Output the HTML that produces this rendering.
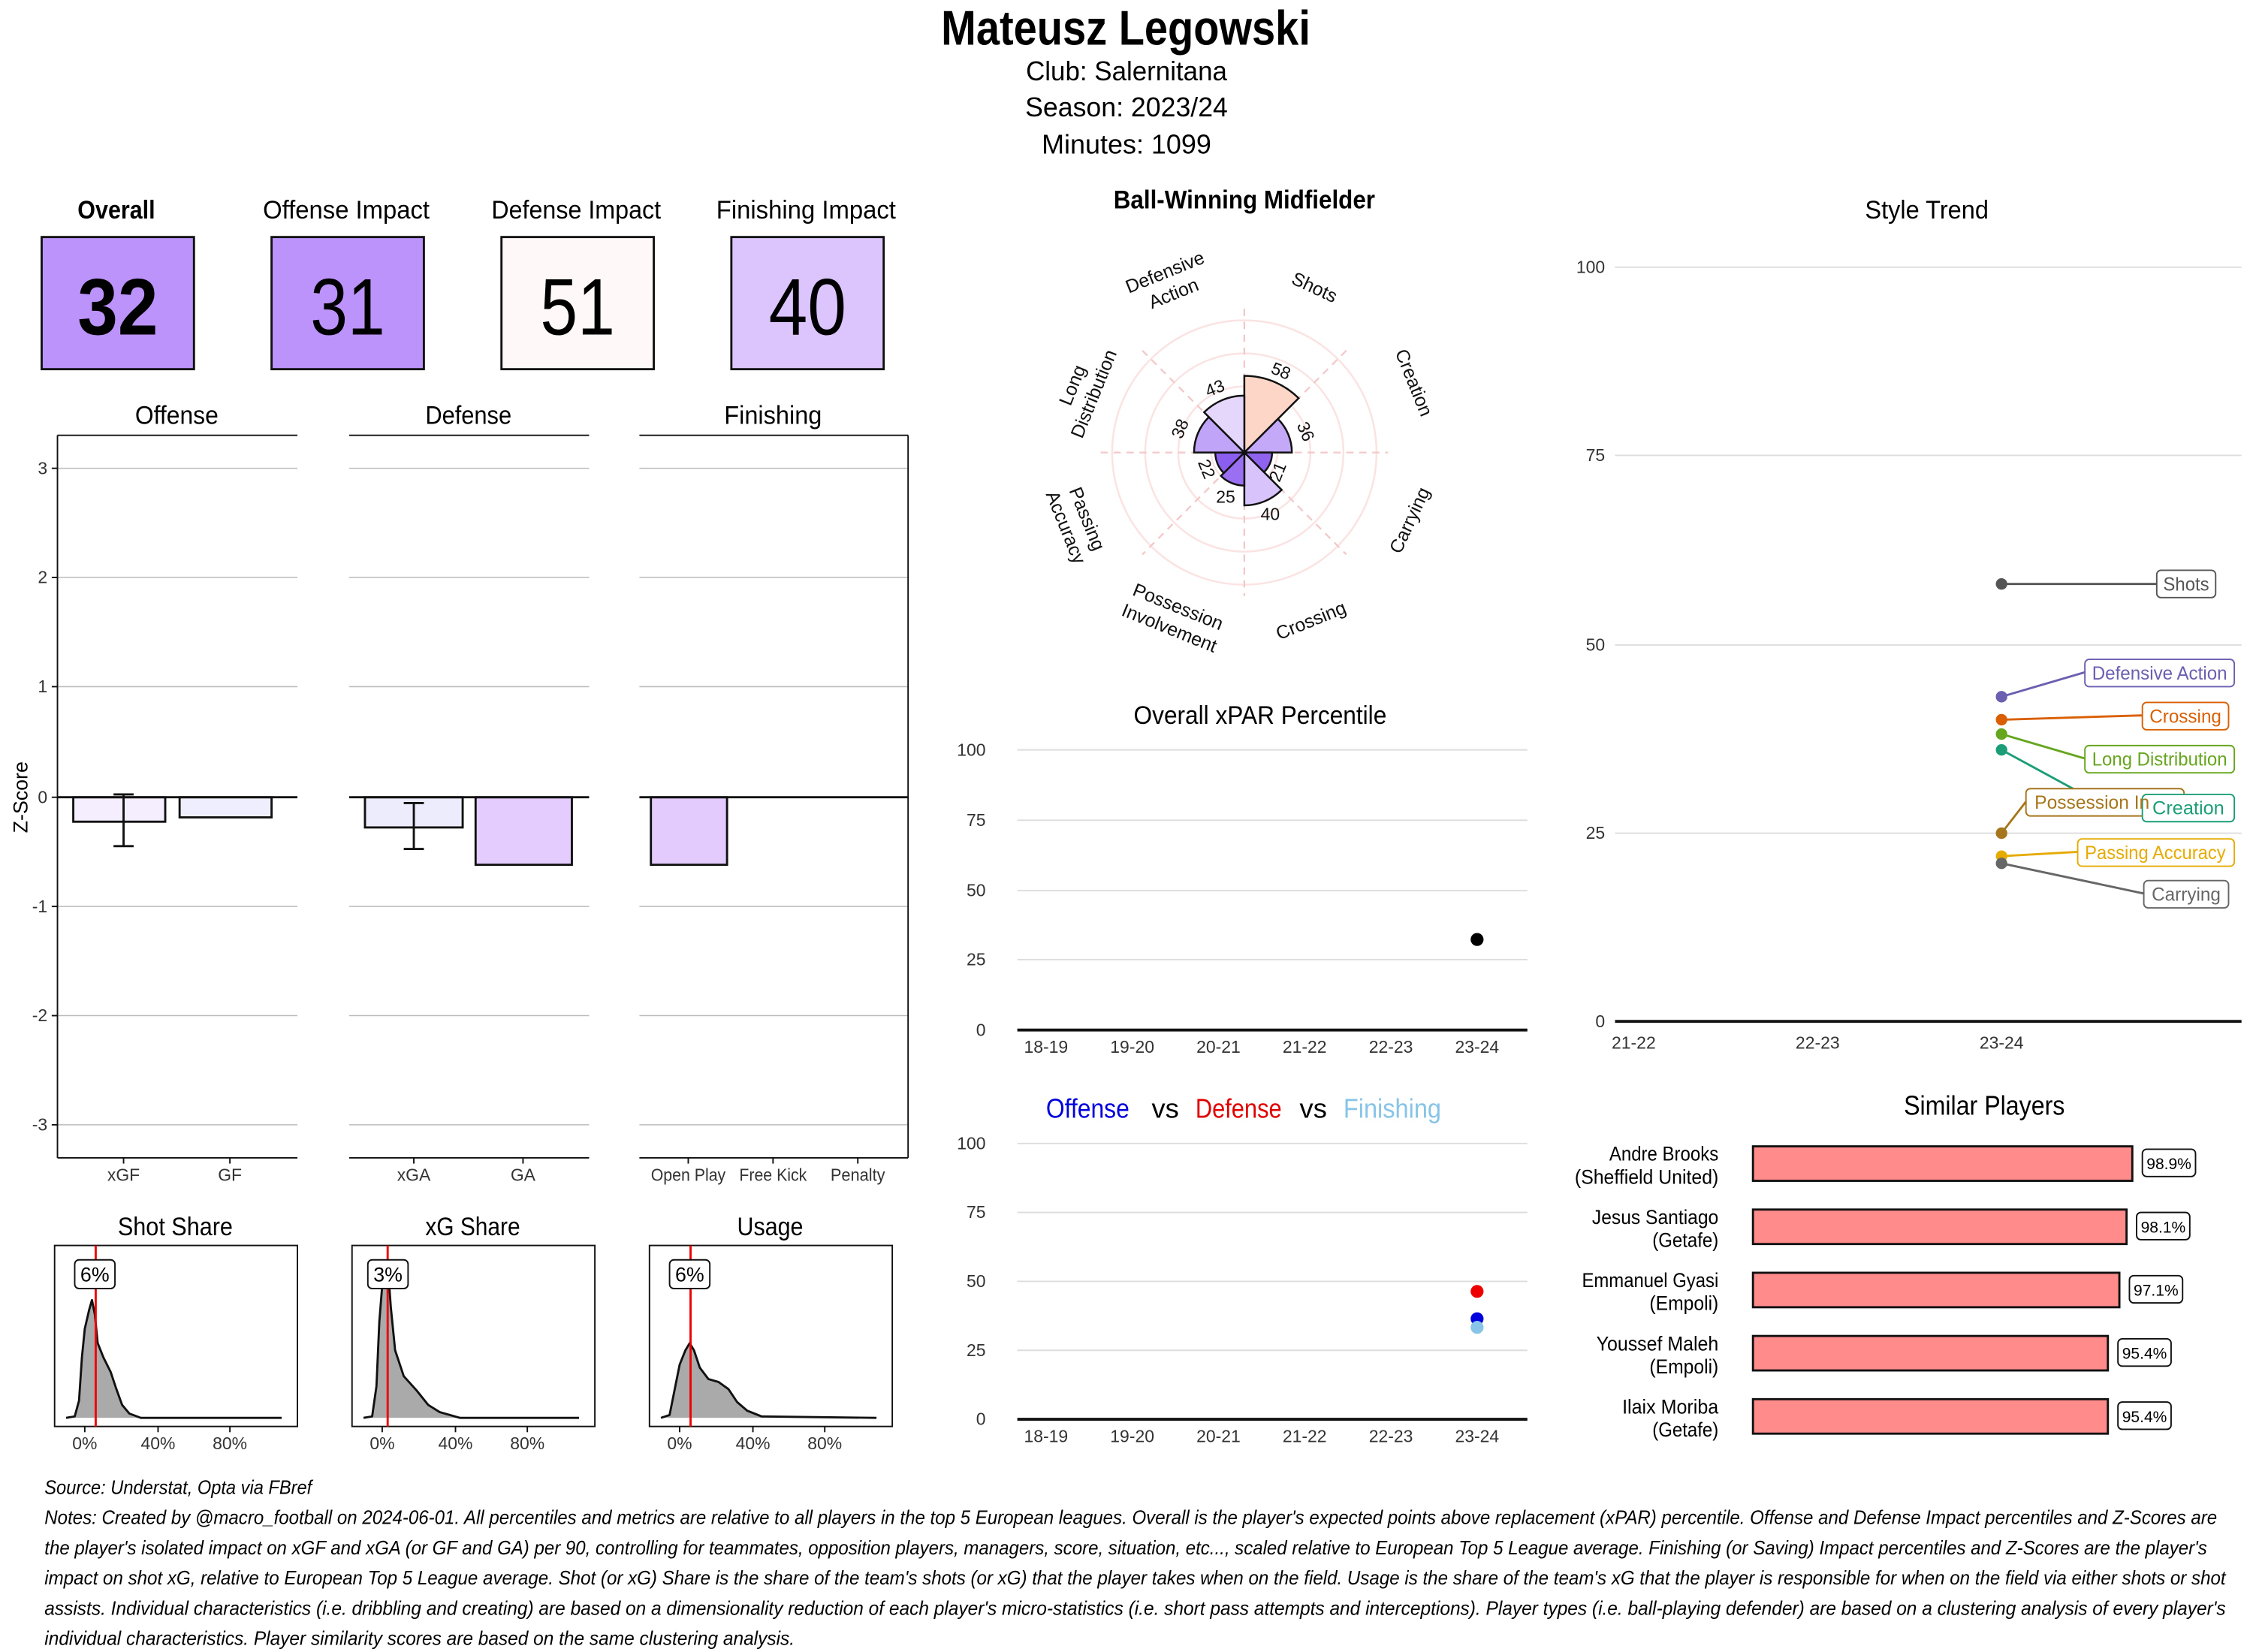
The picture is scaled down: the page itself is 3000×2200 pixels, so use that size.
<!DOCTYPE html>
<html><head><meta charset="utf-8"><style>
html,body{margin:0;padding:0;background:#fff;}
svg{display:block;}
text{font-family:"Liberation Sans Narrow","Liberation Sans",sans-serif;}
.n{font-family:"Liberation Sans",sans-serif;}
</style></head><body>
<svg width="3000" height="2200" viewBox="0 0 1568 1150" preserveAspectRatio="none" xmlns="http://www.w3.org/2000/svg">
<rect width="1568" height="1150" fill="#fff"/>
<!-- Title -->
<text x="655" y="31" font-size="34" font-weight="bold" textLength="257" lengthAdjust="spacingAndGlyphs">Mateusz Legowski</text>
<text x="784" y="56" text-anchor="middle" font-size="19" textLength="140" lengthAdjust="spacingAndGlyphs">Club:  Salernitana</text>
<text x="784" y="81" text-anchor="middle" font-size="19" textLength="141" lengthAdjust="spacingAndGlyphs">Season:  2023/24</text>
<text x="784" y="107" text-anchor="middle" font-size="19" textLength="118" lengthAdjust="spacingAndGlyphs">Minutes:  1099</text>

<!-- Impact boxes -->
<g font-size="18" text-anchor="middle">
<text x="81" y="152" font-weight="bold" textLength="54" lengthAdjust="spacingAndGlyphs">Overall</text>
<text x="241" y="152" textLength="116" lengthAdjust="spacingAndGlyphs">Offense Impact</text>
<text x="401" y="152" textLength="118" lengthAdjust="spacingAndGlyphs">Defense Impact</text>
<text x="561" y="152" textLength="125" lengthAdjust="spacingAndGlyphs">Finishing Impact</text>
</g>
<g stroke="#111" stroke-width="1.5">
<rect x="29" y="165" width="106" height="92" fill="#bb93fb"/>
<rect x="189" y="165" width="106" height="92" fill="#bb93fb"/>
<rect x="349" y="165" width="106" height="92" fill="#fff8f8"/>
<rect x="509" y="165" width="106" height="92" fill="#dcc5fc"/>
</g>
<g font-size="56" text-anchor="middle">
<text x="82" y="233" font-weight="bold" textLength="56" lengthAdjust="spacingAndGlyphs">32</text>
<text x="242" y="233" textLength="52" lengthAdjust="spacingAndGlyphs">31</text>
<text x="402" y="233" textLength="52" lengthAdjust="spacingAndGlyphs">51</text>
<text x="562" y="233" textLength="54" lengthAdjust="spacingAndGlyphs">40</text>
</g>

<!-- Z score panels -->
<g font-size="18" text-anchor="middle">
<text x="123" y="295" textLength="58" lengthAdjust="spacingAndGlyphs">Offense</text>
<text x="326" y="295" textLength="60" lengthAdjust="spacingAndGlyphs">Defense</text>
<text x="538" y="295" textLength="68" lengthAdjust="spacingAndGlyphs">Finishing</text>
</g>
<g stroke="#bbb" stroke-width="0.8">
<line x1="40" x2="207" y1="326" y2="326"/><line x1="40" x2="207" y1="402" y2="402"/><line x1="40" x2="207" y1="478" y2="478"/><line x1="40" x2="207" y1="631" y2="631"/><line x1="40" x2="207" y1="707" y2="707"/><line x1="40" x2="207" y1="783" y2="783"/>
<line x1="243" x2="410" y1="326" y2="326"/><line x1="243" x2="410" y1="402" y2="402"/><line x1="243" x2="410" y1="478" y2="478"/><line x1="243" x2="410" y1="631" y2="631"/><line x1="243" x2="410" y1="707" y2="707"/><line x1="243" x2="410" y1="783" y2="783"/>
<line x1="445" x2="632" y1="326" y2="326"/><line x1="445" x2="632" y1="402" y2="402"/><line x1="445" x2="632" y1="478" y2="478"/><line x1="445" x2="632" y1="631" y2="631"/><line x1="445" x2="632" y1="707" y2="707"/><line x1="445" x2="632" y1="783" y2="783"/>
</g>
<g stroke="#111" stroke-width="1" fill="none">
<line x1="40" y1="303" x2="207" y2="303"/><line x1="40" y1="303" x2="40" y2="806"/><line x1="40" y1="806" x2="207" y2="806"/>
<line x1="243" y1="303" x2="410" y2="303"/><line x1="243" y1="806" x2="410" y2="806"/>
<line x1="445" y1="303" x2="632" y2="303"/><line x1="632" y1="303" x2="632" y2="806"/><line x1="445" y1="806" x2="632" y2="806"/>
<line x1="36" y1="326" x2="40" y2="326"/><line x1="36" y1="402" x2="40" y2="402"/><line x1="36" y1="478" x2="40" y2="478"/><line x1="36" y1="555" x2="40" y2="555"/><line x1="36" y1="631" x2="40" y2="631"/><line x1="36" y1="707" x2="40" y2="707"/><line x1="36" y1="783" x2="40" y2="783"/>
<line x1="86" y1="806" x2="86" y2="810"/><line x1="160" y1="806" x2="160" y2="810"/>
<line x1="288" y1="806" x2="288" y2="810"/><line x1="364" y1="806" x2="364" y2="810"/>
<line x1="479" y1="806" x2="479" y2="810"/><line x1="538" y1="806" x2="538" y2="810"/><line x1="597" y1="806" x2="597" y2="810"/>
</g>
<g font-size="12" text-anchor="end" fill="#333">
<text x="33" y="330">3</text><text x="33" y="406">2</text><text x="33" y="482">1</text><text x="33" y="559">0</text><text x="33" y="635">-1</text><text x="33" y="711">-2</text><text x="33" y="787">-3</text>
</g>
<g font-size="12" text-anchor="middle" fill="#333">
<text x="86" y="822">xGF</text><text x="160" y="822">GF</text>
<text x="288" y="822">xGA</text><text x="364" y="822">GA</text>
<text x="479" y="822" textLength="52" lengthAdjust="spacingAndGlyphs">Open Play</text><text x="538" y="822" textLength="47" lengthAdjust="spacingAndGlyphs">Free Kick</text><text x="597" y="822" textLength="38" lengthAdjust="spacingAndGlyphs">Penalty</text>
</g>
<text class="n" x="19" y="555" font-size="14" text-anchor="middle" transform="rotate(-90 19 555)">Z-Score</text>
<g stroke="#111" stroke-width="1.5">
<rect x="51" y="555" width="64" height="17" fill="#f5eefe"/>
<rect x="125" y="555" width="64" height="14" fill="#eeeefe"/>
<rect x="254" y="555" width="68" height="21" fill="#ececfd"/>
<rect x="331" y="555" width="67" height="47" fill="#e4cdfe"/>
<rect x="453" y="555" width="53" height="47" fill="#e3cbfd"/>
<line x1="40" x2="207" y1="555" y2="555"/><line x1="243" x2="410" y1="555" y2="555"/><line x1="445" x2="632" y1="555" y2="555"/>
<line x1="86" y1="553" x2="86" y2="589"/><line x1="79" y1="553" x2="93" y2="553"/><line x1="79" y1="589" x2="93" y2="589"/>
<line x1="288" y1="559" x2="288" y2="591"/><line x1="281" y1="559" x2="295" y2="559"/><line x1="281" y1="591" x2="295" y2="591"/>
</g>

<!-- Density panels -->
<g font-size="18" text-anchor="middle">
<text x="122" y="860" textLength="80" lengthAdjust="spacingAndGlyphs">Shot Share</text><text x="329" y="860" textLength="66" lengthAdjust="spacingAndGlyphs">xG Share</text><text x="536" y="860" textLength="46" lengthAdjust="spacingAndGlyphs">Usage</text>
</g>
<g fill="none" stroke="#111" stroke-width="1">
<rect x="38" y="867" width="169" height="126"/><rect x="245" y="867" width="169" height="126"/><rect x="452" y="867" width="169" height="126"/>
<line x1="59" y1="993" x2="59" y2="997"/><line x1="110" y1="993" x2="110" y2="997"/><line x1="160" y1="993" x2="160" y2="997"/>
<line x1="266" y1="993" x2="266" y2="997"/><line x1="317" y1="993" x2="317" y2="997"/><line x1="367" y1="993" x2="367" y2="997"/>
<line x1="473" y1="993" x2="473" y2="997"/><line x1="524" y1="993" x2="524" y2="997"/><line x1="574" y1="993" x2="574" y2="997"/>
</g>
<g font-size="12" text-anchor="middle" fill="#333">
<text x="59" y="1009">0%</text><text x="110" y="1009">40%</text><text x="160" y="1009">80%</text>
<text x="266" y="1009">0%</text><text x="317" y="1009">40%</text><text x="367" y="1009">80%</text>
<text x="473" y="1009">0%</text><text x="524" y="1009">40%</text><text x="574" y="1009">80%</text>
</g>
<g fill="#aaa" stroke="#111" stroke-width="1.5" stroke-linejoin="round">
<path d="M46,987 L52,986 L55,975 L57,945 L59,925 L62,912 L64,905 L66,915 L68,935 L72,945 L77,955 L81,967 L85,978 L90,984 L98,987 L196,987"/>
<path d="M253,987 L259,986 L262,965 L264,920 L266,895 L268,880 L270,882 L272,910 L275,940 L281,958 L290,968 L298,978 L306,983 L320,987 L403,987"/>
<path d="M460,987 L466,985 L469,970 L473,950 L477,940 L480,935 L483,940 L487,952 L493,960 L500,962 L507,967 L513,976 L520,982 L530,986 L610,987"/>
</g>
<g stroke="#e00" stroke-width="1.5">
<line x1="66.6" y1="867" x2="66.6" y2="993"/><line x1="269.8" y1="867" x2="269.8" y2="993"/><line x1="480.6" y1="867" x2="480.6" y2="993"/>
</g>
<g fill="#fff" stroke="#111" stroke-width="1">
<rect x="52" y="877" width="28" height="20" rx="3"/><rect x="256" y="877" width="28" height="20" rx="3"/><rect x="466" y="877" width="28" height="20" rx="3"/>
</g>
<g font-size="14" text-anchor="middle">
<text x="66" y="892">6%</text><text x="270" y="892">3%</text><text x="480" y="892">6%</text>
</g>

<!-- Radar -->
<text x="866" y="145" text-anchor="middle" font-size="18" font-weight="bold" textLength="182" lengthAdjust="spacingAndGlyphs">Ball-Winning Midfielder</text>
<g fill="none" stroke="#fbe3e3" stroke-width="1.3">
<circle cx="866" cy="315" r="23"/><circle cx="866" cy="315" r="46"/><circle cx="866" cy="315" r="69"/><circle cx="866" cy="315" r="92"/>
</g>
<g stroke="#f4c8c8" stroke-width="1.2" stroke-dasharray="5,4">
<line x1="866" y1="215" x2="866" y2="415"/><line x1="766" y1="315" x2="966" y2="315"/>
<line x1="795" y1="244" x2="937" y2="386"/><line x1="937" y1="244" x2="795" y2="386"/>
</g>
<g stroke="#111" stroke-width="1.3">
<path d="M866,315 L866,261.6 A53.4,53.4 0 0 1 903.8,277.2 Z" fill="#fdd6c8"/>
<path d="M866,315 L889.4,291.6 A33.1,33.1 0 0 1 899.1,315 Z" fill="#c4a9f8"/>
<path d="M866,315 L885.3,315 A19.3,19.3 0 0 1 879.7,328.7 Z" fill="#9063ee"/>
<path d="M866,315 L892,341 A36.8,36.8 0 0 1 866,351.8 Z" fill="#d8c4fb"/>
<path d="M866,315 L866,338 A23,23 0 0 1 849.7,331.3 Z" fill="#9a6ff2"/>
<path d="M866,315 L851.7,329.3 A20.2,20.2 0 0 1 845.8,315 Z" fill="#8c5ef0"/>
<path d="M866,315 L831,315 A35,35 0 0 1 841.3,290.3 Z" fill="#c0a4f8"/>
<path d="M866,315 L838,287 A39.6,39.6 0 0 1 866,275.4 Z" fill="#e4d7fb"/>
</g>
<g class="n" font-size="12" text-anchor="middle" fill="#111">
<text x="890" y="262" transform="rotate(22 890 262)">58</text>
<text x="905" y="302" transform="rotate(67 905 302)">36</text>
<text x="893" y="330" transform="rotate(-68 893 330)">21</text>
<text x="884" y="362">40</text>
<text x="853" y="350">25</text>
<text x="836" y="328" transform="rotate(68 836 328)">22</text>
<text x="825" y="300" transform="rotate(-67 825 300)">38</text>
<text x="847" y="274" transform="rotate(-22 847 274)">43</text>
</g>
<g font-size="13" text-anchor="middle" fill="#111" style="font-family:'Liberation Sans',sans-serif">
<text x="913" y="204" transform="rotate(25 913 204)">Shots</text>
<g transform="rotate(-22 815 200)"><text x="815" y="193">Defensive</text><text x="815" y="209">Action</text></g>
<text x="980" y="268" transform="rotate(68 980 268)">Creation</text>
<g transform="rotate(-68 756 272)"><text x="756" y="266">Long</text><text x="756" y="282">Distribution</text></g>
<text x="985" y="364" transform="rotate(-65 985 364)">Carrying</text>
<g transform="rotate(68 747 365)"><text x="747" y="359">Passing</text><text x="747" y="375">Accuracy</text></g>
<text x="914" y="436" transform="rotate(-22 914 436)">Crossing</text>
<g transform="rotate(22 816 432)"><text x="816" y="426">Possession</text><text x="816" y="442">Involvement</text></g>
</g>

<!-- Overall xPAR -->
<text x="877" y="504" text-anchor="middle" font-size="18" textLength="176" lengthAdjust="spacingAndGlyphs">Overall xPAR Percentile</text>
<g stroke="#ddd" stroke-width="1">
<line x1="708" x2="1063" y1="522" y2="522"/><line x1="708" x2="1063" y1="571" y2="571"/><line x1="708" x2="1063" y1="620" y2="620"/><line x1="708" x2="1063" y1="668" y2="668"/>
<line x1="708" x2="1063" y1="796" y2="796"/><line x1="708" x2="1063" y1="844" y2="844"/><line x1="708" x2="1063" y1="892" y2="892"/><line x1="708" x2="1063" y1="940" y2="940"/>
</g>
<line x1="708" x2="1063" y1="717" y2="717" stroke="#111" stroke-width="2"/>
<line x1="708" x2="1063" y1="988" y2="988" stroke="#111" stroke-width="2"/>
<g font-size="12" text-anchor="end" fill="#333">
<text x="686" y="526">100</text><text x="686" y="575">75</text><text x="686" y="624">50</text><text x="686" y="672">25</text><text x="686" y="721">0</text>
<text x="686" y="800">100</text><text x="686" y="848">75</text><text x="686" y="896">50</text><text x="686" y="944">25</text><text x="686" y="992">0</text>
</g>
<g font-size="12" text-anchor="middle" fill="#333">
<text x="728" y="733">18-19</text><text x="788" y="733">19-20</text><text x="848" y="733">20-21</text><text x="908" y="733">21-22</text><text x="968" y="733">22-23</text><text x="1028" y="733">23-24</text>
<text x="728" y="1004">18-19</text><text x="788" y="1004">19-20</text><text x="848" y="1004">20-21</text><text x="908" y="1004">21-22</text><text x="968" y="1004">22-23</text><text x="1028" y="1004">23-24</text>
</g>
<circle cx="1028" cy="654" r="4.5" fill="#000"/>
<g font-size="19" text-anchor="middle">
<text x="757" y="778" fill="#0000dd" textLength="58" lengthAdjust="spacingAndGlyphs">Offense</text><text x="811" y="778">vs</text><text x="862" y="778" fill="#e00000" textLength="60" lengthAdjust="spacingAndGlyphs">Defense</text><text x="914" y="778">vs</text><text x="969" y="778" fill="#87c4e8" textLength="68" lengthAdjust="spacingAndGlyphs">Finishing</text>
</g>
<circle cx="1028" cy="899" r="4.5" fill="#e00"/>
<circle cx="1028" cy="918" r="4.5" fill="#0000dd"/>
<circle cx="1028" cy="924" r="4.5" fill="#87c4e8"/>

<!-- Style Trend -->
<text x="1341" y="152" text-anchor="middle" font-size="18" textLength="86" lengthAdjust="spacingAndGlyphs">Style Trend</text>
<g stroke="#ddd" stroke-width="1">
<line x1="1124" x2="1560" y1="186" y2="186"/><line x1="1124" x2="1560" y1="317" y2="317"/><line x1="1124" x2="1560" y1="449" y2="449"/><line x1="1124" x2="1560" y1="580" y2="580"/>
</g>
<line x1="1124" x2="1560" y1="711" y2="711" stroke="#111" stroke-width="2"/>
<g font-size="12" text-anchor="end" fill="#333">
<text x="1117" y="190">100</text><text x="1117" y="321">75</text><text x="1117" y="453">50</text><text x="1117" y="584">25</text><text x="1117" y="715">0</text>
</g>
<g font-size="12" text-anchor="middle" fill="#333">
<text x="1137" y="730">21-22</text><text x="1265" y="730">22-23</text><text x="1393" y="730">23-24</text>
</g>
<g stroke-width="1.5" fill="none">
<line x1="1393" y1="406.5" x2="1501" y2="406.5" stroke="#555"/>
<polyline points="1393,485 1451,468" stroke="#6a5fb0"/>
<line x1="1393" y1="501" x2="1491" y2="498" stroke="#d95f02"/>
<line x1="1393" y1="511" x2="1451" y2="528" stroke="#66a61e"/>
<polyline points="1393,522 1450,553 1491,563" stroke="#1b9e77"/>
<polyline points="1393,580 1410,558" stroke="#a6761d"/>
<line x1="1393" y1="596" x2="1446" y2="593" stroke="#e6ab02"/>
<line x1="1393" y1="601" x2="1492" y2="622" stroke="#666"/>
</g>
<g>
<circle cx="1393" cy="406.5" r="4" fill="#555"/>
<circle cx="1393" cy="485" r="4" fill="#6a5fb0"/>
<circle cx="1393" cy="501" r="4" fill="#d95f02"/>
<circle cx="1393" cy="511" r="4" fill="#66a61e"/>
<circle cx="1393" cy="522" r="4" fill="#1b9e77"/>
<circle cx="1393" cy="580" r="4" fill="#a6761d"/>
<circle cx="1393" cy="596" r="4" fill="#e6ab02"/>
<circle cx="1393" cy="601" r="4" fill="#666"/>
</g>
<g fill="#fff" stroke-width="1">
<rect x="1501" y="397" width="41" height="19" rx="3" stroke="#555"/>
<rect x="1451" y="459" width="104" height="19" rx="3" stroke="#6a5fb0"/>
<rect x="1491" y="489" width="60" height="19" rx="3" stroke="#d95f02"/>
<rect x="1451" y="519" width="104" height="19" rx="3" stroke="#66a61e"/>
<rect x="1410" y="549" width="110" height="19" rx="3" stroke="#a6761d"/>
<rect x="1491" y="553" width="64" height="19" rx="3" stroke="#1b9e77"/>
<rect x="1446" y="584" width="109" height="19" rx="3" stroke="#e6ab02"/>
<rect x="1492" y="613" width="59" height="19" rx="3" stroke="#666"/>
</g>
<g font-size="13" text-anchor="middle">
<text x="1521.5" y="411" fill="#555" textLength="32" lengthAdjust="spacingAndGlyphs">Shots</text>
<text x="1503" y="473" fill="#6a5fb0" textLength="94" lengthAdjust="spacingAndGlyphs">Defensive Action</text>
<text x="1521" y="503" fill="#d95f02" textLength="50" lengthAdjust="spacingAndGlyphs">Crossing</text>
<text x="1503" y="533" fill="#66a61e" textLength="94" lengthAdjust="spacingAndGlyphs">Long Distribution</text>
<text x="1416" y="563" fill="#a6761d" text-anchor="start" textLength="80" lengthAdjust="spacingAndGlyphs">Possession In</text>
<text x="1523" y="567" fill="#1b9e77" textLength="50" lengthAdjust="spacingAndGlyphs">Creation</text>
<text x="1500" y="598" fill="#e6ab02" textLength="98" lengthAdjust="spacingAndGlyphs">Passing Accuracy</text>
<text x="1521.5" y="627" fill="#666" textLength="48" lengthAdjust="spacingAndGlyphs">Carrying</text>
</g>

<!-- Similar players -->
<text x="1381" y="776" text-anchor="middle" font-size="19" textLength="112" lengthAdjust="spacingAndGlyphs">Similar Players</text>
<g fill="#ff8b8b" stroke="#111" stroke-width="1.5">
<rect x="1220" y="798" width="264" height="24"/>
<rect x="1220" y="842" width="260" height="24"/>
<rect x="1220" y="886" width="255" height="24"/>
<rect x="1220" y="930" width="247" height="24"/>
<rect x="1220" y="974" width="247" height="24"/>
</g>
<g fill="#fff" stroke="#111" stroke-width="1">
<rect x="1491" y="800" width="37" height="19" rx="3"/>
<rect x="1487" y="844" width="37" height="19" rx="3"/>
<rect x="1482" y="888" width="37" height="19" rx="3"/>
<rect x="1474" y="932" width="37" height="19" rx="3"/>
<rect x="1474" y="976" width="37" height="19" rx="3"/>
</g>
<g font-size="11" text-anchor="middle">
<text x="1509.5" y="814">98.9%</text><text x="1505.5" y="858">98.1%</text><text x="1500.5" y="902">97.1%</text><text x="1492.5" y="946">95.4%</text><text x="1492.5" y="990">95.4%</text>
</g>
<g font-size="14" text-anchor="end">
<text x="1196" y="808" textLength="76" lengthAdjust="spacingAndGlyphs">Andre Brooks</text><text x="1196" y="824" textLength="100" lengthAdjust="spacingAndGlyphs">(Sheffield United)</text>
<text x="1196" y="852" textLength="88" lengthAdjust="spacingAndGlyphs">Jesus Santiago</text><text x="1196" y="868" textLength="46" lengthAdjust="spacingAndGlyphs">(Getafe)</text>
<text x="1196" y="896" textLength="95" lengthAdjust="spacingAndGlyphs">Emmanuel Gyasi</text><text x="1196" y="912" textLength="48" lengthAdjust="spacingAndGlyphs">(Empoli)</text>
<text x="1196" y="940" textLength="85" lengthAdjust="spacingAndGlyphs">Youssef Maleh</text><text x="1196" y="956" textLength="48" lengthAdjust="spacingAndGlyphs">(Empoli)</text>
<text x="1196" y="984" textLength="67" lengthAdjust="spacingAndGlyphs">Ilaix Moriba</text><text x="1196" y="1000" textLength="46" lengthAdjust="spacingAndGlyphs">(Getafe)</text>
</g>

<!-- Footer -->
<g font-size="13.5" font-style="italic">
<text x="31" y="1040" textLength="186" lengthAdjust="spacingAndGlyphs">Source: Understat, Opta via FBref</text>
<text x="31" y="1061" textLength="1512" lengthAdjust="spacingAndGlyphs">Notes: Created by @macro_football on 2024-06-01. All percentiles and metrics are relative to all players in the top 5 European leagues. Overall is the player's expected points above replacement (xPAR) percentile. Offense and Defense Impact percentiles and Z-Scores are</text>
<text x="31" y="1082" textLength="1505" lengthAdjust="spacingAndGlyphs">the player's isolated impact on xGF and xGA (or GF and GA) per 90, controlling for teammates, opposition players, managers, score, situation, etc..., scaled relative to European Top 5 League average. Finishing (or Saving) Impact percentiles and Z-Scores are the player's</text>
<text x="31" y="1103" textLength="1518" lengthAdjust="spacingAndGlyphs">impact on shot xG, relative to European Top 5 League average. Shot (or xG) Share is the share of the team's shots (or xG) that the player takes when on the field. Usage is the share of the team's xG that the player is responsible for when on the field via either shots or shot</text>
<text x="31" y="1124" textLength="1518" lengthAdjust="spacingAndGlyphs">assists. Individual characteristics (i.e. dribbling and creating) are based on a dimensionality reduction of each player's micro-statistics (i.e. short pass attempts and interceptions). Player types (i.e. ball-playing defender) are based on a clustering analysis of every player's</text>
<text x="31" y="1145" textLength="522" lengthAdjust="spacingAndGlyphs">individual characteristics. Player similarity scores are based on the same clustering analysis.</text>
</g>
</svg>
</body></html>
